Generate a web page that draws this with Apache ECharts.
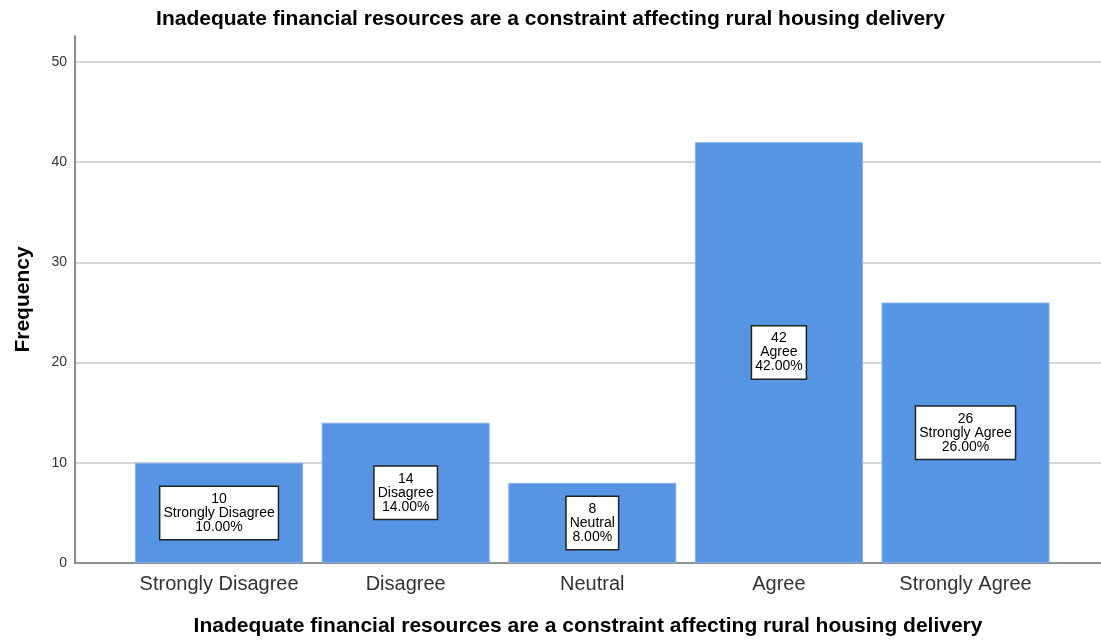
<!DOCTYPE html>
<html>
<head>
<meta charset="utf-8">
<script src="https://cdn.jsdelivr.net/npm/echarts@6/dist/echarts.min.js"></script>
<style>
html,body{margin:0;padding:0;background:#fff;}
#chart{width:1101px;height:640px;}
</style>
</head>
<body>
<div id="chart"></div>
<script>
const categories = ['Strongly Disagree', 'Disagree', 'Neutral', 'Agree', 'Strongly Agree'];
const frequencies = [10, 14, 8, 42, 26];
const percents = ['10.00%', '14.00%', '8.00%', '42.00%', '26.00%'];
const yTicks = [0, 10, 20, 30, 40, 50];
const titleText = 'Inadequate financial resources are a constraint affecting rural housing delivery';

const FONT = '"Liberation Sans", Arial, sans-serif';
const chart = echarts.init(document.getElementById('chart'));
const data = frequencies.map((v, i) => ({ value: [i, v], pct: percents[i], cat: categories[i] }));

chart.setOption({
  animation: false,
  backgroundColor: '#ffffff',
  title: {
    text: titleText,
    left: 'center',
    top: 4,
    textStyle: { fontFamily: FONT, fontSize: 21, fontWeight: 'bold', color: '#000' }
  },
  grid: { left: 75, right: 0, top: 36, bottom: 77, containLabel: false, outerBoundsMode: 'none' },
  xAxis: {
    type: 'value',
    min: -0.772,
    max: 4.726,
    name: titleText,
    nameLocation: 'middle',
    nameGap: 53,
    nameTextStyle: { fontFamily: FONT, fontSize: 21, fontWeight: 'bold', color: '#000' },
    axisLine: { show: true, lineStyle: { color: '#6e6e6e', width: 1.5 } },
    axisTick: { show: false },
    splitLine: { show: false },
    axisLabel: {
      customValues: categories.map((c, i) => i),
      formatter: v => categories[Math.round(v)] || '',
      fontFamily: FONT, fontSize: 20, color: '#333', margin: 11
    }
  },
  yAxis: {
    type: 'value',
    min: 0,
    max: 52.6,
    interval: 10,
    name: 'Frequency',
    nameLocation: 'middle',
    nameGap: 41,
    nameTextStyle: { fontFamily: FONT, fontSize: 21, fontWeight: 'bold', color: '#000' },
    axisLine: { show: true, onZero: false, lineStyle: { color: '#8c8c8c', width: 2 } },
    axisTick: { show: false },
    axisLabel: {
      customValues: yTicks,
      fontFamily: FONT, fontSize: 14, color: '#333', margin: 8
    },
    splitLine: { show: true, showMaxLine: false, showMinLine: false, lineStyle: { color: '#d6d6d6', width: 2 } }
  },
  series: [{
    type: 'bar',
    data: data,
    barWidth: 168,
    itemStyle: { color: '#5595e3', borderColor: '#7fb0ec', borderWidth: 1 },
    label: {
      show: true,
      position: 'inside',
      formatter: p => p.data.value[1] + '\n' + p.data.cat + '\n' + p.data.pct,
      fontFamily: FONT,
      fontSize: 14,
      lineHeight: 14,
      color: '#000',
      backgroundColor: '#ffffff',
      borderColor: '#222',
      borderWidth: 1.5,
      padding: [6, 3, 4, 3]
    }
  }]
});
</script>
</body>
</html>
